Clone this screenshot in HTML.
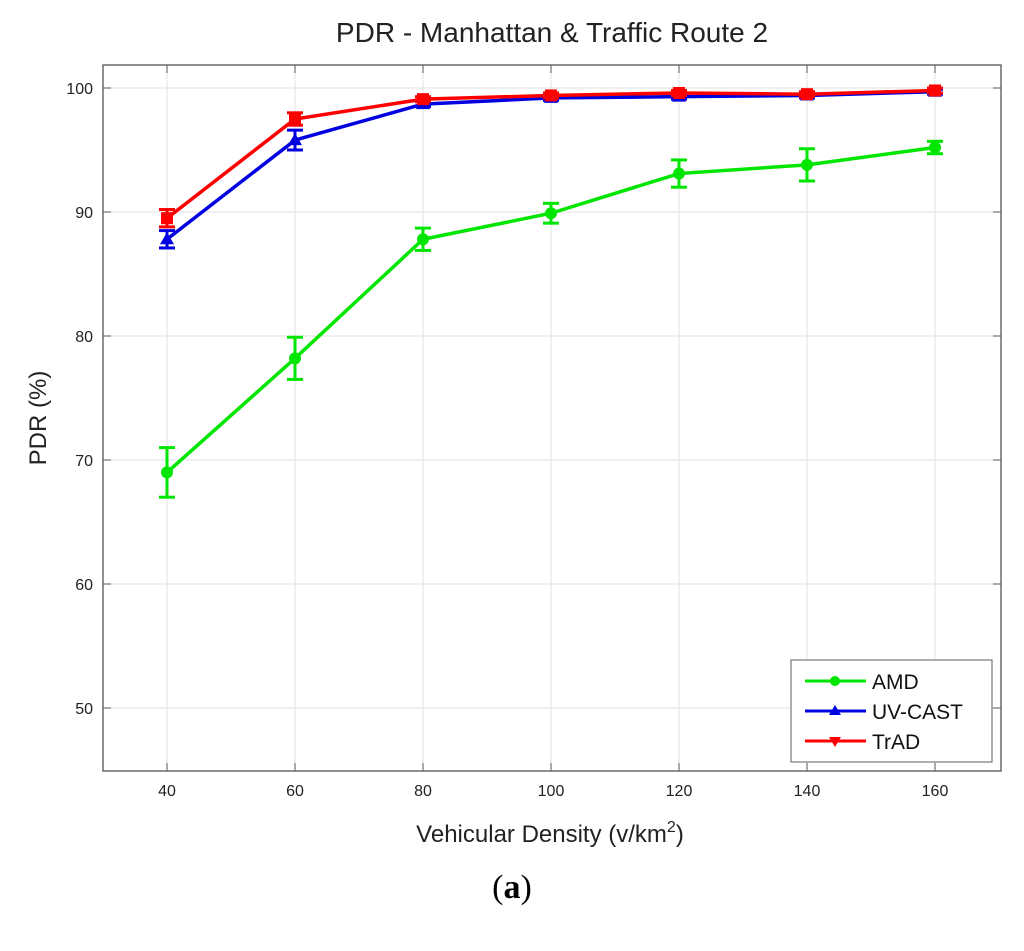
<!DOCTYPE html>
<html><head><meta charset="utf-8"><style>
body{margin:0;background:#fff;width:1024px;height:946px;overflow:hidden;font-family:"Liberation Sans",Arial,sans-serif}
</style></head><body>
<svg id="chart" width="1024" height="946" xmlns="http://www.w3.org/2000/svg">
<text x="552" y="42" font-size="28" text-anchor="middle" fill="#222">PDR - Manhattan &amp; Traffic Route 2</text>
<text x="550" y="842" font-size="24" text-anchor="middle" fill="#222">Vehicular Density (v/km<tspan dy="-10" font-size="16">2</tspan><tspan dy="10">)</tspan></text>
<text x="0" y="0" font-size="24" text-anchor="middle" fill="#222" transform="translate(46,418) rotate(-90)">PDR (%)</text>
<text x="512" y="898" font-size="34" text-anchor="middle" fill="#000" font-family="Liberation Serif,serif">(<tspan font-weight="bold">a</tspan>)</text>
<g id="grid"></g><g id="series"></g>
<g>
<rect x="791" y="660" width="201" height="102" fill="#fff" stroke="#777" stroke-width="1.2"/>
<line x1="805" y1="681" x2="866" y2="681" stroke="#00e600" stroke-width="3"/><circle cx="835" cy="681" r="5" fill="#00e600"/>
<text x="872" y="689" font-size="21" fill="#111">AMD</text>
<line x1="805" y1="711" x2="866" y2="711" stroke="#0000e0" stroke-width="3"/><polygon points="835,705 841,715 829,715" fill="#0000e0"/>
<text x="872" y="719" font-size="21" fill="#111">UV-CAST</text>
<line x1="805" y1="741" x2="866" y2="741" stroke="#f00" stroke-width="3"/><polygon points="829,737 841,737 835,747" fill="#f00"/>
<text x="872" y="749" font-size="21" fill="#111">TrAD</text>
</g>
</svg>
<script>
const categories=[40,60,80,100,120,140,160];
const yTicks=[50,60,70,80,90,100];
const amd=[69.0,78.2,87.8,89.9,93.1,93.8,95.2];
const amdErr=[2.0,1.7,0.9,0.8,1.1,1.3,0.5];
const uvcast=[87.8,95.8,98.7,99.2,99.3,99.4,99.7];
const uvcastErr=[0.7,0.8,0.2,0.2,0.2,0.2,0.2];
const trad=[89.5,97.5,99.1,99.4,99.6,99.5,99.8];
const tradErr=[0.7,0.5,0.2,0.2,0.2,0.2,0.2];
const L=103,R=1001,T=65,B=771;
const X=v=>167+(v-40)*6.4;
const Y=v=>88+(100-v)*12.4;
const NS='http://www.w3.org/2000/svg';
function mk(tag,at,parent){const e=document.createElementNS(NS,tag);for(const k in at)e.setAttribute(k,at[k]);parent.appendChild(e);return e;}
const g=document.getElementById('grid');
let frame=mk('rect',{x:L,y:T,width:R-L,height:B-T,fill:'none',stroke:'#555','stroke-width':1.3},g);


categories.forEach(c=>{
 let l=mk('line',{x1:X(c),x2:X(c),y1:T,y2:B,stroke:'#e2e2e2'},g);
 
 
 mk('line',{x1:X(c),x2:X(c),y1:B,y2:B-8,stroke:'#555'},g);
 mk('line',{x1:X(c),x2:X(c),y1:T,y2:T+8,stroke:'#555'},g);
 let t=mk('text',{x:X(c),y:B+25,'font-size':16,'text-anchor':'middle',fill:'#222'},g);t.textContent=c;
 
 
});
yTicks.forEach(v=>{
 let l=mk('line',{x1:L,x2:R,y1:Y(v),y2:Y(v),stroke:'#e2e2e2'},g);
 
 
 mk('line',{x1:L,x2:L+8,y1:Y(v),y2:Y(v),stroke:'#555'},g);
 mk('line',{x1:R,x2:R-8,y1:Y(v),y2:Y(v),stroke:'#555'},g);
 let t=mk('text',{x:L-10,y:Y(v)+6,'font-size':16,'text-anchor':'end',fill:'#222'},g);t.textContent=v;
 
 
});
const s=document.getElementById('series');
function draw(vals,errs,color,name,marker){
 const grp=mk('g',{},s);
 
 
 const pl=mk('polyline',{points:vals.map((v,i)=>X(categories[i])+','+Y(v)).join(' '),fill:'none',stroke:color,'stroke-width':3.5},grp);
 
 
 vals.forEach((v,i)=>{
  const x=X(categories[i]),y1=Y(v+errs[i]),y2=Y(v-errs[i]);
  mk('line',{x1:x,x2:x,y1:y1,y2:y2,stroke:color,'stroke-width':3},grp);
  mk('line',{x1:x-8,x2:x+8,y1:y1,y2:y1,stroke:color,'stroke-width':3},grp);
  mk('line',{x1:x-8,x2:x+8,y1:y2,y2:y2,stroke:color,'stroke-width':3},grp);
  const y=Y(v);let m;
  if(marker==='c')m=mk('circle',{cx:x,cy:y,r:6,fill:color},grp);
  else if(marker==='u')m=mk('polygon',{points:`${x},${y-7} ${x+7},${y+5} ${x-7},${y+5}`,fill:color},grp);
  else m=mk('rect',{x:x-6,y:y-6,width:12,height:12,fill:color},grp);
  
  
 });
}
draw(amd,amdErr,'#00e600','amd','c');
draw(uvcast,uvcastErr,'#0000e0','uv-cast','u');
draw(trad,tradErr,'#ff0000','trad','s');
</script>
</body></html>
